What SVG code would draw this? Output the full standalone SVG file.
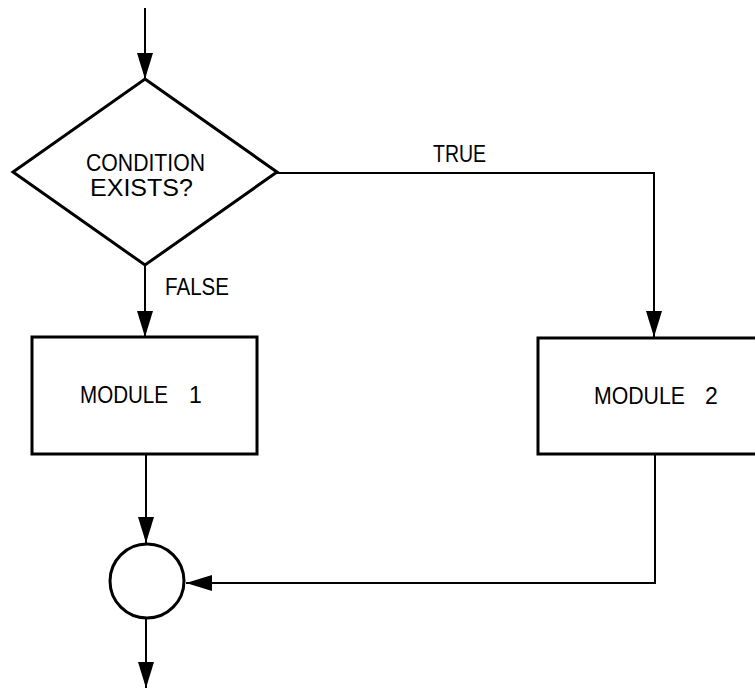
<svg xmlns="http://www.w3.org/2000/svg" width="755" height="688" viewBox="0 0 755 688">
  <defs>
    <marker id="arrow" markerUnits="userSpaceOnUse" markerWidth="26" markerHeight="16" refX="26" refY="8" orient="auto">
      <path d="M0,0 L26,8 L0,16 z" fill="#000"/>
    </marker>
    <style>
      .shape { fill: #fff; stroke: #000; stroke-width: 3; }
      .wire { fill: none; stroke: #000; stroke-width: 2; marker-end: url(#arrow); }
      .label { font-family: "Liberation Sans", Arial, sans-serif; font-size: 23px; fill: #000; }
    </style>
  </defs>
  <rect width="755" height="688" fill="#fff"/>

  <!-- connectors -->
  <g id="connectors">
    <path class="wire" d="M145,8 V79"/>
    <path class="wire" d="M277,173 H654 V337"/>
    <path class="wire" d="M145,265 V337"/>
    <path class="wire" d="M146,454 V543"/>
    <path class="wire" d="M655,454 V583 H186"/>
    <path class="wire" d="M146,619 V688"/>
    <text class="label" x="433" y="162" textLength="53" lengthAdjust="spacingAndGlyphs">TRUE</text>
    <text class="label" x="165" y="295" textLength="64" lengthAdjust="spacingAndGlyphs">FALSE</text>
  </g>

  <!-- decision -->
  <g id="decision">
    <polygon class="shape" points="145,79 277,172 145,265 13,172"/>
    <text class="label" x="86" y="171" textLength="119" lengthAdjust="spacingAndGlyphs">CONDITION</text>
    <text class="label" x="90" y="196" textLength="103" lengthAdjust="spacingAndGlyphs">EXISTS?</text>
  </g>

  <!-- module 1 -->
  <g id="module1">
    <rect class="shape" x="32" y="337" width="225" height="117"/>
    <text class="label" x="80" y="403"><tspan textLength="88" lengthAdjust="spacingAndGlyphs">MODULE</tspan><tspan x="189">1</tspan></text>
  </g>

  <!-- module 2 -->
  <g id="module2">
    <rect class="shape" x="538" y="338" width="234" height="116"/>
    <text class="label" x="594" y="404"><tspan textLength="91" lengthAdjust="spacingAndGlyphs">MODULE</tspan><tspan x="705">2</tspan></text>
  </g>

  <!-- junction -->
  <g id="junction">
    <circle class="shape" cx="147" cy="581" r="37"/>
  </g>
</svg>
